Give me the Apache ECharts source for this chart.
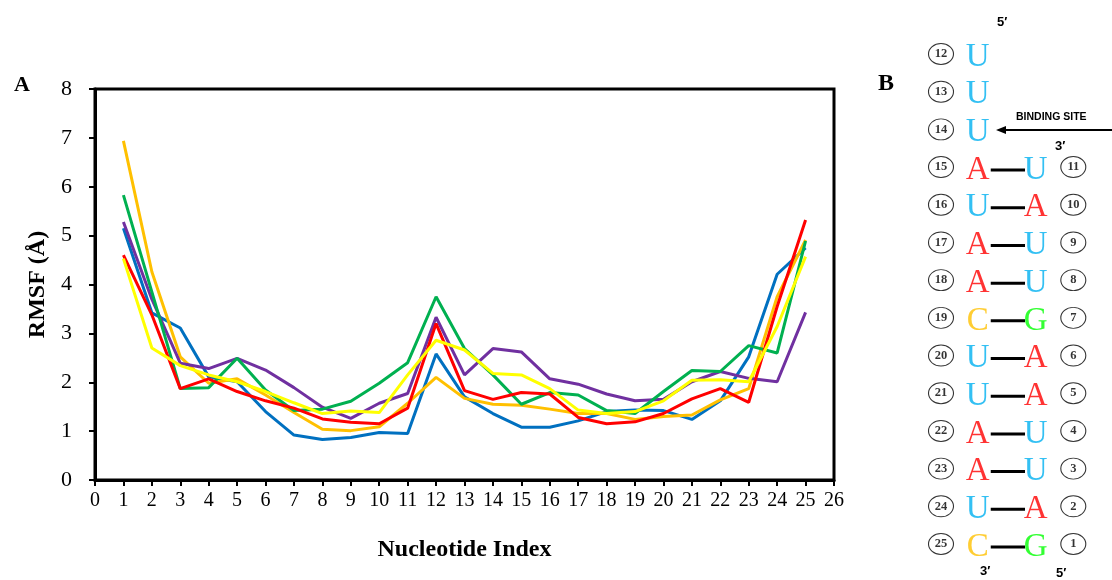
<!DOCTYPE html>
<html>
<head>
<meta charset="utf-8">
<title>RMSF</title>
<script src="https://cdn.jsdelivr.net/npm/echarts@6/dist/echarts.min.js"></script>
<style>
  html, body { margin: 0; padding: 0; background: #fff; }
  #chart { width: 1112px; height: 580px; }
</style>
</head>
<body>
<div id="chart"></div>
<script>
  // panel A: RMSF per nucleotide, six runs
  const nucleotides = [1, 2, 3, 4, 5, 6, 7, 8, 9, 10, 11, 12, 13, 14, 15, 16, 17, 18, 19, 20, 21, 22, 23, 24, 25];
  const blueRun   = [5.15, 3.42, 3.11, 2.11, 2.01, 1.40, 0.92, 0.83, 0.87, 0.97, 0.95, 2.58, 1.70, 1.36, 1.08, 1.08, 1.21, 1.40, 1.43, 1.42, 1.24, 1.62, 2.52, 4.21, 4.75];
  const orangeRun = [6.94, 4.26, 2.52, 1.98, 2.07, 1.74, 1.38, 1.04, 1.01, 1.09, 1.57, 2.10, 1.67, 1.55, 1.53, 1.45, 1.36, 1.36, 1.24, 1.30, 1.33, 1.64, 1.87, 3.75, 4.91];
  const purpleRun = [5.28, 3.70, 2.39, 2.28, 2.49, 2.25, 1.89, 1.49, 1.26, 1.57, 1.77, 3.33, 2.15, 2.69, 2.62, 2.07, 1.96, 1.76, 1.62, 1.65, 2.01, 2.22, 2.08, 2.01, 3.43];
  const greenRun  = [5.83, 3.85, 1.87, 1.89, 2.49, 1.84, 1.42, 1.45, 1.61, 1.98, 2.40, 3.75, 2.69, 2.15, 1.55, 1.79, 1.74, 1.42, 1.36, 1.81, 2.24, 2.22, 2.75, 2.60, 4.89];
  const redRun    = [4.60, 3.38, 1.87, 2.07, 1.81, 1.62, 1.47, 1.25, 1.18, 1.15, 1.47, 3.20, 1.83, 1.65, 1.79, 1.76, 1.28, 1.15, 1.19, 1.36, 1.66, 1.87, 1.59, 3.55, 5.32];
  const yellowRun = [4.53, 2.70, 2.34, 2.15, 2.01, 1.81, 1.58, 1.36, 1.41, 1.38, 2.15, 2.86, 2.66, 2.18, 2.15, 1.87, 1.43, 1.36, 1.40, 1.62, 2.04, 2.05, 2.01, 3.14, 4.57];

  // panel B: hairpin sequence
  const leftNums  = [12, 13, 14, 15, 16, 17, 18, 19, 20, 21, 22, 23, 24, 25];
  const leftBases = ['U', 'U', 'U', 'A', 'U', 'A', 'A', 'C', 'U', 'U', 'A', 'A', 'U', 'C'];
  const rightNums  = [11, 10, 9, 8, 7, 6, 5, 4, 3, 2, 1];
  const rightBases = ['U', 'A', 'U', 'U', 'G', 'A', 'A', 'U', 'U', 'A', 'G'];
  const pairedFrom = 15; // first left row that has a partner

  const baseColor = { U: '#00B0F0', A: '#FF0000', C: '#FFC000', G: '#00FF00' };
  const serif = 'Liberation Serif, Times New Roman, serif';
  const sans = 'Liberation Sans, Arial, sans-serif';

  // column positions in panel B (x axis 0..1)
  const colNumL = 0, colBaseL = 0.278, colBaseR = 0.716, colNumR = 1;
  const bondL = 0.376, bondR = 0.635;

  function zip(xs, ys) { return xs.map((x, i) => [x, ys[i]]); }

  function runSeries(data, color) {
    return {
      type: 'line',
      xAxisIndex: 0, yAxisIndex: 0,
      data: zip(nucleotides, data),
      symbol: 'none',
      lineStyle: { color: color, width: 3 },
      itemStyle: { color: color },
      animation: false
    };
  }

  const rightRows = rightNums.map((n, i) => pairedFrom + i);

  const chart = echarts.init(document.getElementById('chart'));
  chart.setOption({
    backgroundColor: '#fff',
    animation: false,
    grid: [
      { left: 95, right: 278, top: 89, bottom: 100, show: true, borderColor: '#000', borderWidth: 3 },
      { left: 941, right: 38.7, top: 54, bottom: 36 }
    ],
    xAxis: [
      {
        gridIndex: 0, type: 'value', min: 0, max: 26, interval: 1,
        name: 'Nucleotide Index', nameLocation: 'middle', nameGap: 58,
        nameTextStyle: { fontFamily: serif, fontWeight: 'bold', fontSize: 24, color: '#000' },
        axisLine: { lineStyle: { color: '#000', width: 3 } },
        axisTick: { show: true, length: 6, lineStyle: { color: '#000', width: 2 } },
        axisLabel: { fontFamily: serif, fontSize: 20, color: '#000', margin: 11 },
        splitLine: { show: false }
      },
      { gridIndex: 1, type: 'value', min: 0, max: 1, show: false }
    ],
    yAxis: [
      {
        gridIndex: 0, type: 'value', min: 0, max: 8, interval: 1,
        name: 'RMSF (Å)', nameLocation: 'middle', nameGap: 45, nameRotate: 90,
        nameTextStyle: { fontFamily: serif, fontWeight: 'bold', fontSize: 24, color: '#000' },
        axisLine: { show: true, lineStyle: { color: '#000', width: 3 } },
        axisTick: { show: true, length: 6, lineStyle: { color: '#000', width: 2 } },
        axisLabel: { fontFamily: serif, fontSize: 22, color: '#000', margin: 23 },
        splitLine: { show: false }
      },
      { gridIndex: 1, type: 'value', min: 12, max: 25, inverse: true, show: false }
    ],
    series: [
      runSeries(blueRun, '#0070C0'),
      runSeries(orangeRun, '#FFC000'),
      runSeries(purpleRun, '#7030A0'),
      runSeries(greenRun, '#00B050'),
      runSeries(redRun, '#FF0000'),
      runSeries(yellowRun, '#FFFF00'),
      // base-pair bonds
      {
        type: 'custom', xAxisIndex: 1, yAxisIndex: 1,
        data: rightRows.map(r => [r]),
        renderItem: function (params, api) {
          const p1 = api.coord([bondL, api.value(0)]);
          const p2 = api.coord([bondR, api.value(0)]);
          return {
            type: 'line',
            shape: { x1: p1[0], y1: p1[1] + 3, x2: p2[0], y2: p2[1] + 3 },
            style: { stroke: '#000', lineWidth: 3 }
          };
        }
      },
      // circled position numbers
      {
        type: 'scatter', xAxisIndex: 1, yAxisIndex: 1,
        data: leftNums.map(n => ({ value: [colNumL, n], name: String(n) }))
          .concat(rightNums.map((n, i) => ({ value: [colNumR, rightRows[i]], name: String(n) }))),
        symbol: 'circle', symbolSize: [25, 21],
        itemStyle: { color: '#fff', borderColor: '#000', borderWidth: 1 },
        label: {
          show: true, position: 'inside', formatter: p => p.name,
          fontFamily: serif, fontWeight: 'bold', fontSize: 12.5, color: '#000'
        },
        silent: true
      },
      // bases
      {
        type: 'scatter', xAxisIndex: 1, yAxisIndex: 1,
        data: leftBases.map((b, i) => ({ value: [colBaseL, leftNums[i]], name: b, label: { color: baseColor[b] } }))
          .concat(rightBases.map((b, i) => ({ value: [colBaseR, rightRows[i]], name: b, label: { color: baseColor[b] } }))),
        symbolSize: 1,
        itemStyle: { color: 'rgba(0,0,0,0)' },
        label: { show: true, position: 'inside', offset: [0, 3], formatter: p => p.name, fontFamily: serif, fontSize: 33 },
        silent: true
      }
    ],
    graphic: [
      { type: 'text', left: 14, top: 74, style: { text: 'A', font: 'bold 22px ' + serif, fill: '#000' } },
      { type: 'text', left: 878, top: 72, style: { text: 'B', font: 'bold 24px ' + serif, fill: '#000' } },
      { type: 'text', left: 997, top: 16, style: { text: '5′', font: 'bold 13px ' + sans, fill: '#000' } },
      { type: 'text', left: 1016, top: 112, style: { text: 'BINDING SITE', font: 'bold 10.5px ' + sans, fill: '#000' } },
      { type: 'text', left: 1055, top: 140, style: { text: '3′', font: 'bold 13px ' + sans, fill: '#000' } },
      { type: 'text', left: 980, top: 565, style: { text: '3′', font: 'bold 13px ' + sans, fill: '#000' } },
      { type: 'text', left: 1056, top: 567, style: { text: '5′', font: 'bold 13px ' + sans, fill: '#000' } },
      { type: 'line', shape: { x1: 1005, y1: 130, x2: 1112, y2: 130 }, style: { stroke: '#000', lineWidth: 2 } },
      { type: 'polygon', shape: { points: [[996, 130], [1006, 126], [1006, 134]] }, style: { fill: '#000' } }
    ]
  });
</script>
</body>
</html>
